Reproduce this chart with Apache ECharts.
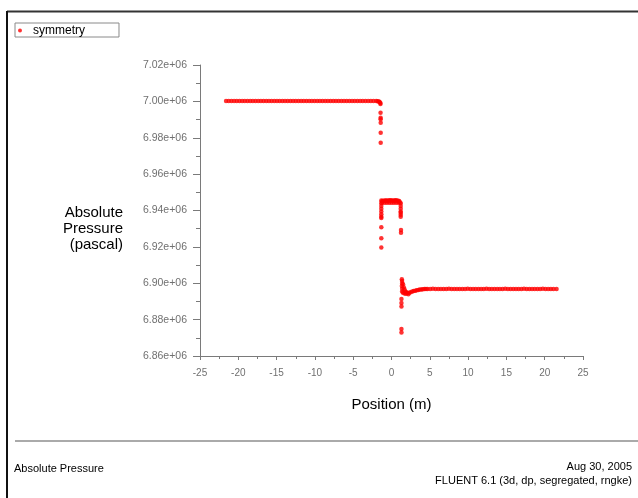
<!DOCTYPE html>
<html>
<head>
<meta charset="utf-8">
<script src="https://cdn.jsdelivr.net/npm/echarts@6/dist/echarts.min.js"></script>
<style>
html,body{margin:0;padding:0;background:#fff;}
#chart{width:638px;height:498px;}
</style>
</head>
<body>
<div id="chart"></div>
<script>
// ---- data (Position in m, Absolute Pressure in Pa) ----
var seriesName = 'symmetry';
var xTicks = { min: -25, max: 25, step: 5 };
var yTicks = { min: 6860000, max: 7020000, step: 20000 };

// upstream plateau + end of it
var upstreamX = [-21.6,-21.25,-20.9,-20.55,-20.2,-19.85,-19.5,-19.15,-18.8,-18.45,-18.1,-17.75,-17.4,-17.05,-16.7,-16.35,-16.0,-15.65,-15.3,-14.95,-14.6,-14.25,-13.9,-13.55,-13.2,-12.85,-12.5,-12.15,-11.8,-11.45,-11.1,-10.75,-10.4,-10.05,-9.7,-9.35,-9.0,-8.65,-8.3,-7.95,-7.6,-7.25,-6.9,-6.55,-6.2,-5.85,-5.5,-5.15,-4.8,-4.45,-4.1,-3.75,-3.4,-3.05,-2.7,-2.35,-2.0,-1.8,-1.65,-1.55];
var upstreamY = [7000200,7000250,7000200,7000150,7000200,7000250,7000200,7000200,7000150,7000200,7000250,7000200,7000200,7000150,7000200,7000250,7000200,7000200,7000150,7000200,7000250,7000200,7000200,7000150,7000200,7000250,7000200,7000150,7000200,7000200,7000250,7000200,7000150,7000200,7000200,7000250,7000200,7000150,7000200,7000200,7000250,7000200,7000150,7000200,7000250,7000200,7000200,7000150,7000200,7000250,7000200,7000200,7000150,7000200,7000250,7000200,7000150,7000100,7000000,6999600];
// points falling off the upstream plateau
var dropAX = [-1.45,-1.44,-1.43,-1.42,-1.42,-1.41,-1.41,-1.41];
var dropAY = [6999100,6998600,6993800,6991000,6990200,6988300,6982800,6977300];

// middle plateau
var middleX = [-1.33,-1.33,-1.33,-1.33,-1.33,-1.33,-1.33,-1.33,-1.33,-1.33,-1.33,
  -1.25,-1.1,-0.95,-0.8,-0.65,-0.5,-0.35,-0.2,-0.05,0.1,0.25,0.4,0.55,0.7,0.85,1.0,1.1,
  -1.2,-0.9,-0.6,-0.3,0.0,0.3,0.6,0.9,
  1.2,1.2,1.2,1.2,1.2,1.2,1.2,1.24,1.24];
var middleY = [6945500,6944000,6942500,6941000,6939500,6938000,6936500,6935900,6930800,6924800,6919600,
  6944900,6945300,6945400,6945500,6945500,6945400,6945500,6945600,6945500,6945500,6945400,6945500,6945600,6945500,6945400,6945200,6944600,
  6944300,6944200,6944300,6944200,6944300,6944200,6944300,6944200,
  6944000,6942500,6941000,6939500,6938700,6937600,6936500,6929300,6927700];

// downstream: column, overshoot and plateau
var downstreamX = [1.3,1.3,1.3,1.3,1.3,
  1.35,1.38,1.4,1.35,1.4,1.38,1.5,1.6,1.7,1.8,1.95,2.1,2.3,2.5,2.7,2.9,3.1,3.3,3.5,3.7,3.9,4.1,4.3,4.5,
  1.5,1.7,1.9,2.2,
  4.7,5.05,5.4,5.75,6.1,6.45,6.8,7.15,7.5,7.85,8.2,8.55,8.9,9.25,9.6,9.95,10.3,10.65,11.0,11.35,11.7,12.05,12.4,12.75,13.1,13.45,13.8,14.15,14.5,14.85,15.2,15.55,15.9,16.25,16.6,16.95,17.3,17.65,18.0,18.35,18.7,19.05,19.4,19.75,20.1,20.45,20.8,21.15,21.55];
var downstreamY = [6891300,6889100,6887200,6874800,6872900,
  6902200,6901200,6900000,6898500,6897000,6895500,6899500,6897800,6896500,6895500,6895000,6894700,6894800,6895100,6895400,6895700,6895900,6896100,6896300,6896500,6896600,6896700,6896800,6896850,
  6894800,6894300,6894200,6894000,
  6896900,6896900,6896950,6896900,6896900,6896850,6896900,6896900,6896950,6896900,6896900,6896900,6896850,6896900,6896900,6896950,6896900,6896900,6896900,6896850,6896900,6896900,6896950,6896900,6896900,6896900,6896850,6896900,6896900,6896950,6896900,6896900,6896900,6896850,6896900,6896900,6896950,6896900,6896900,6896900,6896850,6896900,6896900,6896950,6896900,6896900,6896900,6896900,6896900];

function zip(xs, ys){ return xs.map(function(x,i){ return [x, ys[i]]; }); }
var allPoints = [].concat(zip(upstreamX, upstreamY), zip(dropAX, dropAY), zip(middleX, middleY), zip(downstreamX, downstreamY));

var FONT = 'Liberation Sans, Arial, Helvetica, sans-serif';
var chart = echarts.init(document.getElementById('chart'), null, {renderer:'canvas'});
chart.setOption({
  animation: false,
  backgroundColor: '#ffffff',
  textStyle: { fontFamily: FONT },
  grid: { left: 200, right: 55, top: 65, bottom: 142, containLabel: false },
  legend: {
    left: 15, top: 23,
    orient: 'horizontal',
    data: [{ name: seriesName, icon: 'circle' }],
    itemWidth: 4, itemHeight: 4,
    padding: [1, 34, 0, 3],
    borderColor: '#8a8a8a', borderWidth: 1,
    backgroundColor: '#ffffff',
    textStyle: { color: '#000', fontSize: 12, fontFamily: FONT, padding: [0,0,0,6], lineHeight: 13 },
    selectedMode: false
  },
  xAxis: {
    type: 'value',
    min: xTicks.min, max: xTicks.max, interval: xTicks.step,
    name: 'Position (m)', nameLocation: 'middle', nameGap: 41,
    nameTextStyle: { color: '#000', fontSize: 15, fontFamily: FONT },
    axisLine: { show: true, onZero: false, lineStyle: { color: '#7a7a7a', width: 1 } },
    axisTick: { show: true, length: 4, lineStyle: { color: '#7a7a7a' } },
    minorTick: { show: true, splitNumber: 2, length: 3, lineStyle: { color: '#7a7a7a' } },
    axisLabel: { color: '#707070', fontSize: 10, margin: 12, fontFamily: FONT },
    splitLine: { show: false }
  },
  yAxis: {
    type: 'value',
    min: yTicks.min, max: yTicks.max, interval: yTicks.step,
    axisLine: { show: true, onZero: false, lineStyle: { color: '#7a7a7a', width: 1 } },
    axisTick: { show: true, length: 7, lineStyle: { color: '#7a7a7a' } },
    minorTick: { show: true, splitNumber: 2, length: 4, lineStyle: { color: '#7a7a7a' } },
    axisLabel: {
      color: '#707070', fontSize: 10.5, margin: 13, fontFamily: FONT,
      formatter: function(v){ return (v/1e6).toFixed(2) + 'e+06'; }
    },
    splitLine: { show: false }
  },
  series: [{
    name: seriesName,
    type: 'scatter',
    symbol: 'circle',
    symbolSize: 4.5,
    itemStyle: { color: '#ff0000' },
    data: allPoints
  }],
  graphic: [
    { type: 'line', shape: { x1: 7, y1: 11.5, x2: 638, y2: 11.5 }, style: { stroke: '#333', lineWidth: 2 } },
    { type: 'line', shape: { x1: 7, y1: 11, x2: 7, y2: 498 }, style: { stroke: '#111', lineWidth: 2 } },
    { type: 'line', shape: { x1: 15, y1: 441, x2: 638, y2: 441 }, style: { stroke: '#aaaaaa', lineWidth: 2 } },
    { type: 'text', x: 123, y: 229, style: { text: 'Absolute\nPressure\n(pascal)', fill: '#000', font: '15px ' + FONT, textAlign: 'right', textVerticalAlign: 'middle', lineHeight: 16 } },
    { type: 'text', x: 14, y: 469, style: { text: 'Absolute Pressure', fill: '#000', font: '11px ' + FONT, textAlign: 'left', textVerticalAlign: 'middle' } },
    { type: 'text', x: 632, y: 467, style: { text: 'Aug 30, 2005', fill: '#000', font: '11px ' + FONT, textAlign: 'right', textVerticalAlign: 'middle' } },
    { type: 'text', x: 632, y: 481, style: { text: 'FLUENT 6.1 (3d, dp, segregated, rngke)', fill: '#000', font: '11px ' + FONT, textAlign: 'right', textVerticalAlign: 'middle' } }
  ]
});
</script>
</body>
</html>
